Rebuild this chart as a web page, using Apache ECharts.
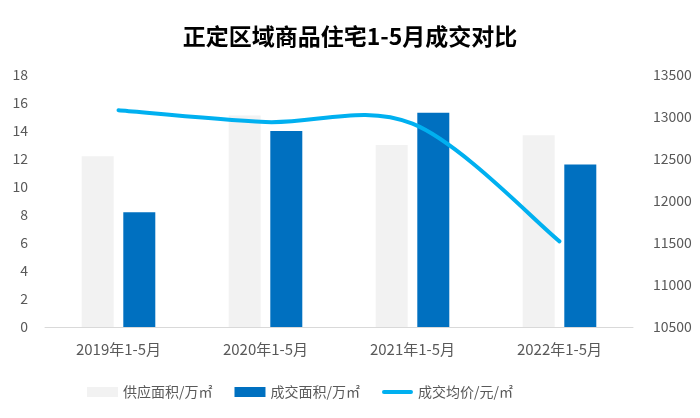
<!DOCTYPE html>
<html><head><meta charset="utf-8">
<script src="https://cdn.jsdelivr.net/npm/echarts@6/dist/echarts.min.js"></script>
<style>html,body{margin:0;padding:0;background:#fff}#c{width:700px;height:418px}</style>
</head><body><div id="c"></div>
<script>
const categories = ['2019年1-5月','2020年1-5月','2021年1-5月','2022年1-5月'];
const supplyArea = [12.2, 15.1, 13.0, 13.7];
const dealArea = [8.2, 14.0, 15.3, 11.6];
const avgPrice = [13080, 12940, 12920, 11520];
const leftTicks = [0, 18, 2];
const rightTicks = [10500, 13500, 500];

const chart = echarts.init(document.getElementById('c'));
const font = "'Microsoft YaHei','Noto Sans CJK SC',sans-serif";

// Excel-style smoothed line (Catmull-Rom through the data points, via axis coords)
function renderSmooth(params, api) {
  if (params.dataIndex !== 0) return null;
  const pts = avgPrice.map((v, i) => api.coord([i, v]));
  let d = 'M' + pts[0][0] + ',' + pts[0][1];
  for (let i = 0; i < pts.length - 1; i++) {
    const p0 = pts[Math.max(i - 1, 0)], p1 = pts[i], p2 = pts[i + 1], p3 = pts[Math.min(i + 2, pts.length - 1)];
    const c1 = [p1[0] + (p2[0] - p0[0]) / 6, p1[1] + (p2[1] - p0[1]) / 6];
    const c2 = [p2[0] - (p3[0] - p1[0]) / 6, p2[1] - (p3[1] - p1[1]) / 6];
    d += ' C' + c1[0] + ',' + c1[1] + ' ' + c2[0] + ',' + c2[1] + ' ' + p2[0] + ',' + p2[1];
  }
  return {type:'path', z2:10, shape:{pathData:d}, style:{fill:null, stroke:'#00B0F0', lineWidth:4, lineCap:'round', lineJoin:'round'}};
}

chart.setOption({
  animation:false,
  title:{text:'正定区域商品住宅1-5月成交对比',left:'center',top:20,textStyle:{fontSize:23,fontWeight:'bold',color:'#000',fontFamily:font}},
  grid:{left:45,right:67,top:75,bottom:91},
  legend:{bottom:14,left:82,itemGap:22,itemWidth:31,itemHeight:10,itemTextGap:4,textStyle:{color:'#595959',fontSize:14,fontFamily:font},
    data:[{name:'供应面积/万㎡',icon:'rect',itemStyle:{color:'#F2F2F2'}},{name:'成交面积/万㎡',icon:'rect',itemStyle:{color:'#0070C0'}},
      {name:'成交均价/元/㎡',icon:'path://M2,3 L30,3 A2,2 0 0 1 30,7 L2,7 A2,2 0 0 1 2,3 Z',itemStyle:{color:'#00B0F0'}}]},
  xAxis:{type:'category',data:categories,axisLine:{lineStyle:{color:'#D9D9D9',width:1}},axisTick:{show:false},
    axisLabel:{color:'#595959',fontSize:15,margin:15,fontFamily:font}},
  yAxis:[
    {type:'value',min:leftTicks[0],max:leftTicks[1],interval:leftTicks[2],splitLine:{show:false},axisLine:{show:false},
      axisLabel:{color:'#595959',fontSize:14,margin:17,fontFamily:font}},
    {type:'value',min:rightTicks[0],max:rightTicks[1],interval:rightTicks[2],splitLine:{show:false},axisLine:{show:false},
      axisLabel:{color:'#595959',fontSize:14,margin:20,fontFamily:font,formatter:v=>String(v)}}
  ],
  series:[
    {name:'供应面积/万㎡',type:'bar',data:supplyArea,barWidth:32,barGap:'30%',itemStyle:{color:'#F2F2F2'}},
    {name:'成交面积/万㎡',type:'bar',data:dealArea,barWidth:32,itemStyle:{color:'#0070C0'}},
    {name:'成交均价/元/㎡',type:'custom',z:5,yAxisIndex:1,coordinateSystem:'cartesian2d',
      data:avgPrice.map((v,i)=>[i,v]),encode:{x:0,y:1},renderItem:renderSmooth,itemStyle:{color:'#00B0F0'},clip:false}
  ]
});
</script></body></html>
